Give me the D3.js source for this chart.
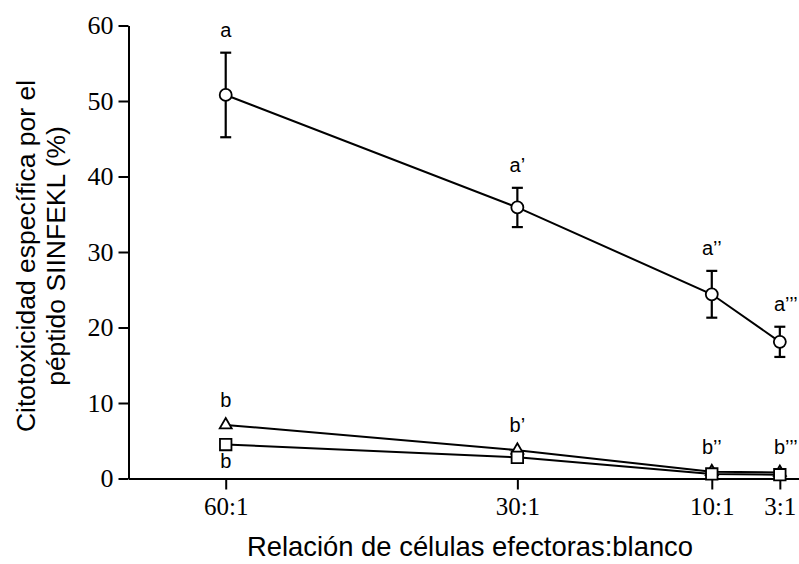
<!DOCTYPE html>
<html>
<head>
<meta charset="utf-8">
<script src="https://cdn.jsdelivr.net/npm/d3@7"></script>
<style>
  html, body { margin: 0; padding: 0; background: #fff; }
  svg { display: block; }
</style>
</head>
<body>
<svg id="chart" width="799" height="564"></svg>
<script>
// Effector:target ratios (x) and their tick labels
const ratios = [60, 30, 10, 3];
const ratioLabels = ["60:1", "30:1", "10:1", "3:1"];
const yTicks = [0, 10, 20, 30, 40, 50, 60];

// Specific cytotoxicity (%) for each group
const circleMean = [50.8, 35.9, 24.4, 18.1];
const circleErr  = [5.6, 2.6, 3.1, 2.0];
const triangleMean = [7.1, 3.75, 0.9, 0.8];
const squareMean   = [4.5, 2.8, 0.6, 0.5];

// Significance letters
const circleLetters   = ["a", "a\u2019", "a\u2019\u2019", "a\u2019\u2019\u2019"];
const triangleLetters = ["b", "b\u2019", "b\u2019\u2019", "b\u2019\u2019\u2019"];
const squareLetters   = ["b", "", "", ""];

const svg = d3.select("#chart");
svg.append("rect").attr("width", 799).attr("height", 564).attr("fill", "#fff");

const x = d3.scaleLinear().domain([70, 0]).range([128.5, 809]);
const y = d3.scaleLinear().domain([0, 60]).range([478.5, 25.5]);

const serif = "'Liberation Serif', 'Times New Roman', serif";
const sans = "'Liberation Sans', Arial, sans-serif";

// Axes
const xAxis = svg.append("g")
  .attr("transform", `translate(0,${y(0)})`)
  .call(d3.axisBottom(x).tickValues(ratios)
    .tickFormat((d, i) => ratioLabels[i]).tickSize(11).tickSizeOuter(0).tickPadding(8));
const yAxis = svg.append("g")
  .attr("transform", `translate(${x(70)},0)`)
  .call(d3.axisLeft(y).tickValues(yTicks).tickSize(10).tickSizeOuter(0).tickPadding(5));

[xAxis, yAxis].forEach(g => {
  g.select(".domain").attr("stroke", "#000").attr("stroke-width", 2);
  g.selectAll(".tick line").attr("stroke", "#000").attr("stroke-width", 2);
  g.selectAll(".tick text").attr("fill", "#000").style("font-family", serif);
});
xAxis.selectAll(".tick text").style("font-size", "25px");
yAxis.selectAll(".tick text").style("font-size", "26px");

// Axis titles
svg.append("text")
  .attr("x", 470).attr("y", 556)
  .attr("text-anchor", "middle")
  .style("font-family", sans).style("font-size", "27.4px")
  .text("Relación de células efectoras:blanco");

const yTitle = svg.append("text")
  .attr("transform", "translate(35,256) rotate(-90)")
  .attr("text-anchor", "middle")
  .style("font-family", sans).style("font-size", "26.5px");
yTitle.append("tspan").attr("x", 0).attr("y", 0).text("Citotoxicidad específica por el");
yTitle.append("tspan").attr("x", 0).attr("y", 30).text("péptido SIINFEKL (%)");

const line = d3.line().x((d, i) => x(ratios[i])).y(d => y(d));

// Connecting lines
[squareMean, triangleMean, circleMean].forEach(s => {
  svg.append("path").datum(s)
    .attr("d", line)
    .attr("fill", "none").attr("stroke", "#000").attr("stroke-width", 2);
});

// Error bars for the circle series
const capW = 11;
const eb = svg.append("g").attr("stroke", "#000").attr("stroke-width", 2.2);
circleMean.forEach((m, i) => {
  const cx = x(ratios[i]);
  eb.append("line").attr("x1", cx).attr("x2", cx)
    .attr("y1", y(m - circleErr[i])).attr("y2", y(m + circleErr[i]));
  eb.append("line").attr("x1", cx - capW / 2).attr("x2", cx + capW / 2)
    .attr("y1", y(m + circleErr[i])).attr("y2", y(m + circleErr[i]));
  eb.append("line").attr("x1", cx - capW / 2).attr("x2", cx + capW / 2)
    .attr("y1", y(m - circleErr[i])).attr("y2", y(m - circleErr[i]));
});

// Markers
const markerStyle = sel => sel.attr("fill", "#fff").attr("stroke", "#000").attr("stroke-width", 1.8);

svg.append("g").selectAll("path").data(triangleMean).join("path")
  .attr("d", d3.symbol(d3.symbolTriangle, 62)())
  .attr("transform", (d, i) => `translate(${x(ratios[i])},${y(d)})`)
  .call(markerStyle);

svg.append("g").selectAll("path").data(squareMean).join("path")
  .attr("d", d3.symbol(d3.symbolSquare, 132)())
  .attr("transform", (d, i) => `translate(${x(ratios[i])},${y(d)})`)
  .call(markerStyle);

svg.append("g").selectAll("circle").data(circleMean).join("circle")
  .attr("cx", (d, i) => x(ratios[i])).attr("cy", d => y(d)).attr("r", 6)
  .call(markerStyle);

// Significance letters
const letterX = i => x(ratios[i]) + (i === 3 ? 6 : 0);
const letters = svg.append("g")
  .attr("text-anchor", "middle")
  .style("font-family", sans).style("font-size", "20px");

letters.selectAll("text.c").data(circleLetters).join("text").attr("class", "c")
  .attr("x", (d, i) => letterX(i))
  .attr("y", (d, i) => y(circleMean[i] + circleErr[i]) - 16)
  .text(d => d);

letters.selectAll("text.t").data(triangleLetters).join("text").attr("class", "t")
  .attr("x", (d, i) => letterX(i))
  .attr("y", (d, i) => y(triangleMean[i]) - 18)
  .text(d => d);

letters.selectAll("text.s").data(squareLetters).join("text").attr("class", "s")
  .attr("x", (d, i) => letterX(i))
  .attr("y", (d, i) => y(squareMean[i]) + 23.5)
  .text(d => d);
</script>
</body>
</html>
